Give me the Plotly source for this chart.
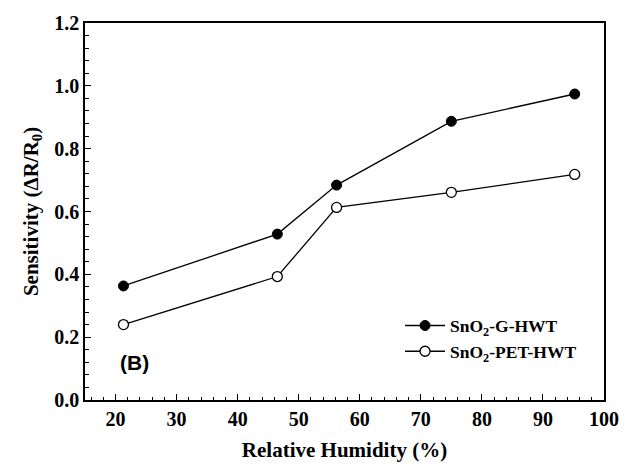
import plotly.graph_objects as go

humidity = [21.3, 46.5, 56.2, 75.0, 95.2]
g_hwt = [0.363, 0.528, 0.684, 0.887, 0.974]
pet_hwt = [0.240, 0.393, 0.613, 0.661, 0.718]
names = ["SnO<sub>2</sub>-G-HWT", "SnO<sub>2</sub>-PET-HWT"]
x_ticks = [20, 30, 40, 50, 60, 70, 80, 90, 100]
y_ticks = [0.0, 0.2, 0.4, 0.6, 0.8, 1.0, 1.2]

fig = go.Figure()
fig.add_trace(go.Scatter(x=humidity, y=g_hwt, mode="lines+markers", name="<b>" + names[0] + "</b>",
                         line=dict(color="black", width=1.3),
                         marker=dict(symbol="circle", size=10, color="black",
                                     line=dict(color="black", width=1))))
fig.add_trace(go.Scatter(x=humidity, y=pet_hwt, mode="lines+markers", name="<b>" + names[1] + "</b>",
                         line=dict(color="black", width=1.3),
                         marker=dict(symbol="circle", size=10, color="white",
                                     line=dict(color="black", width=1.3))))

axis_font = dict(family="Liberation Serif", size=21, color="black")
tick_font = dict(family="Liberation Serif", size=20, color="black", weight="bold")
fig.update_layout(
    width=631, height=471,
    margin=dict(l=85, r=16, t=20, b=71),
    paper_bgcolor="white", plot_bgcolor="white",
    showlegend=True,
    legend=dict(x=0.607, y=0.245, xanchor="left", yanchor="top",
                font=dict(family="Liberation Serif", size=17.5, color="black"),
                bgcolor="rgba(0,0,0,0)", itemwidth=40, tracegroupgap=0),
    xaxis=dict(range=[15, 100], tickmode="array", tickvals=x_ticks,
               ticktext=["<b>%d</b>" % v for v in x_ticks],
               ticks="inside", ticklen=6, tickwidth=1.3, tickcolor="black",
               minor=dict(dtick=2, tick0=0, ticks="inside", ticklen=3, tickcolor="black", tickwidth=1),
               showline=True, linecolor="black", linewidth=1.5, mirror=True, showgrid=False,
               zeroline=False, tickfont=tick_font,
               title=dict(text="<b>Relative Humidity (%)</b>", font=axis_font, standoff=14)),
    yaxis=dict(range=[0, 1.2], tickmode="array", tickvals=y_ticks,
               ticktext=["<b>%.1f</b>" % v for v in y_ticks],
               ticks="inside", ticklen=6, tickwidth=1.3, tickcolor="black",
               minor=dict(dtick=0.04, tick0=0, ticks="inside", ticklen=4, tickcolor="black", tickwidth=1),
               showline=True, linecolor="black", linewidth=1.5, mirror=True, showgrid=False,
               zeroline=False, tickfont=tick_font,
               title=dict(text="<b>Sensitivity (ΔR/R<sub>0</sub>)</b>", font=axis_font, standoff=10)),
    annotations=[dict(text="<b>(B)</b>", x=0.095, y=0.10, xref="paper", yref="paper",
                      showarrow=False, xanchor="center", yanchor="middle",
                      font=dict(family="Liberation Sans", size=21, color="black"))],
)

fig.write_html("out.html")
